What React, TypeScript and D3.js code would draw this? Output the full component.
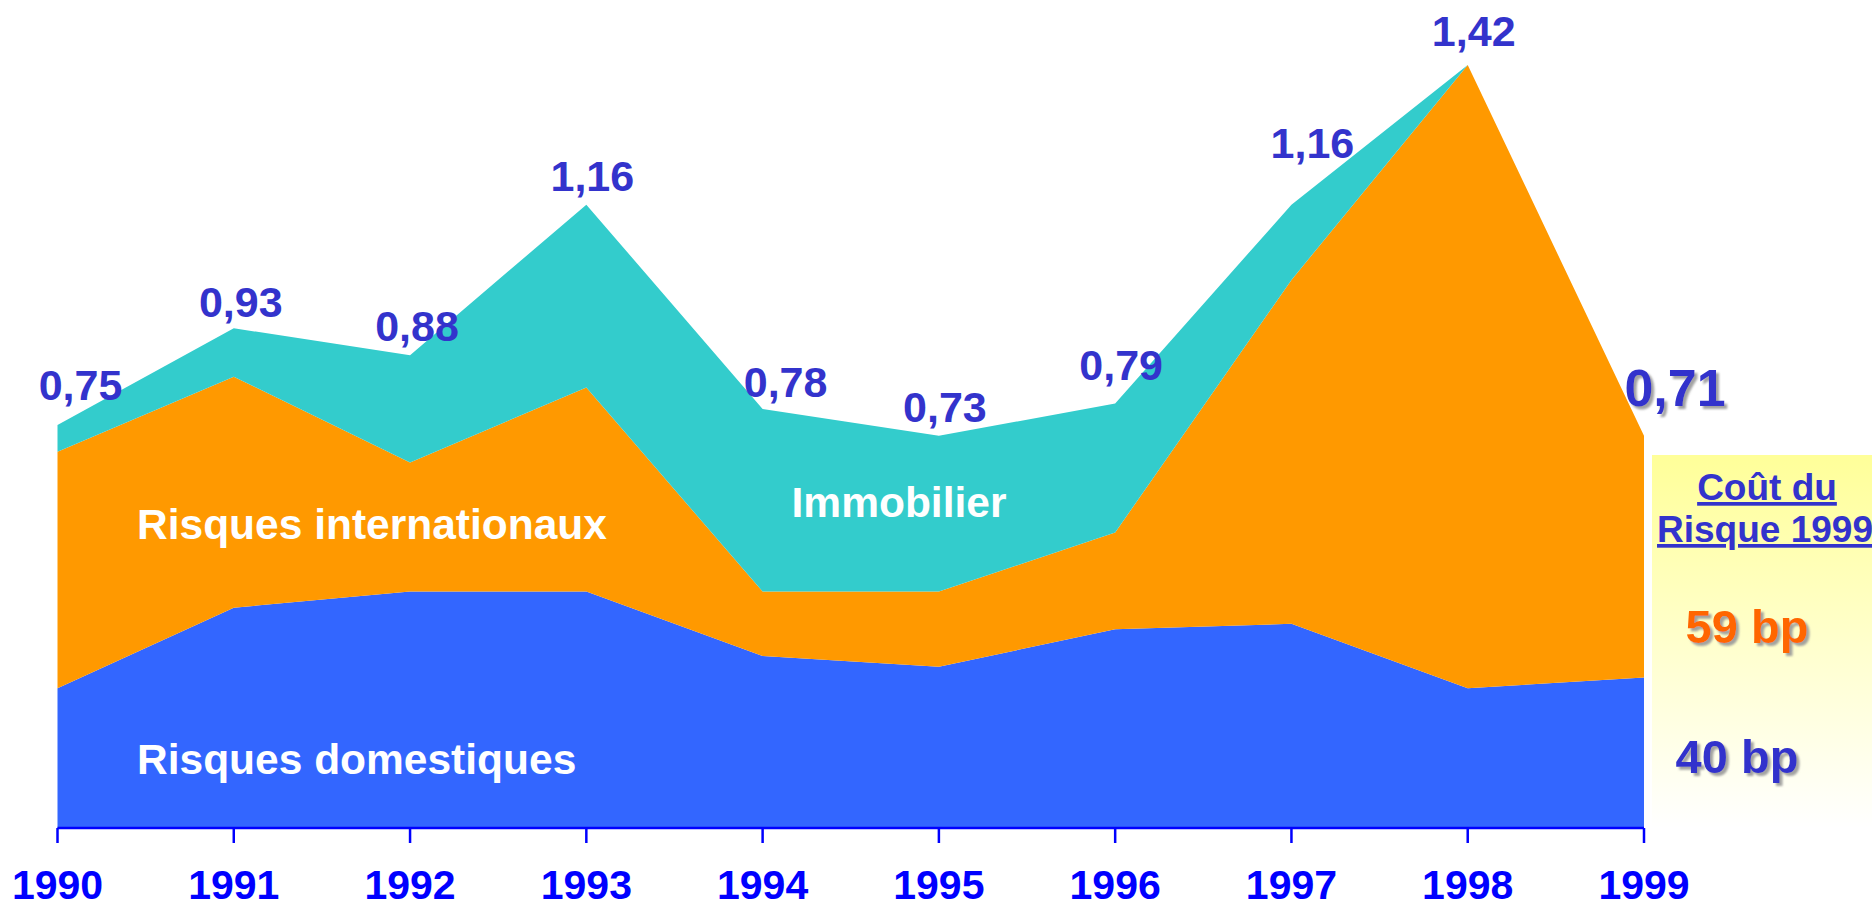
import * as d3 from 'd3';
import { useEffect, useRef } from 'react';

const WIDTH = 1872;
const HEIGHT = 908;

const years = ['1990', '1991', '1992', '1993', '1994', '1995', '1996', '1997', '1998', '1999'];
// cost of risk by component, in % of loans
const domestiques = [0.26, 0.41, 0.44, 0.44, 0.32, 0.3, 0.37, 0.38, 0.26, 0.28];
const internationaux = [0.44, 0.43, 0.24, 0.38, 0.12, 0.14, 0.18, 0.64, 1.16, 0.45];
const immobilier = [0.05, 0.09, 0.2, 0.34, 0.34, 0.29, 0.24, 0.14, 0, 0];
const totalLabels = ['0,75', '0,93', '0,88', '1,16', '0,78', '0,73', '0,79', '1,16', '1,42', '0,71'];

const seriesKeys = ['domestiques', 'internationaux', 'immobilier'] as const;
const seriesColors = ['#3366FF', '#FF9900', '#33CCCC'];

// label nudges [dx, dy] relative to the top of the stack
const labelNudge: [number, number][] = [
  [23, -25], [7, -11], [7, -14], [6, -14], [23, -12],
  [6, -14], [6, -24], [21, -47], [6, -19], [31, -30],
];

const FONT = "'Liberation Sans', Arial, sans-serif";

export default function App() {
  const svgRef = useRef<SVGSVGElement>(null);

  useEffect(() => {
    const svgEl = svgRef.current;
    if (!svgEl) return;
    const svg = d3.select(svgEl);
    svg.selectAll('*').remove();

    const rows = years.map((y, i) => ({
      year: y,
      domestiques: domestiques[i],
      internationaux: internationaux[i],
      immobilier: immobilier[i],
    }));

    const x = d3.scalePoint<string>().domain(years).range([57.5, 1644]);
    const y = d3.scaleLinear().domain([0, 1.42]).range([828, 65]);

    const stack = d3.stack<(typeof rows)[number]>().keys(seriesKeys as unknown as string[]);
    const layers = stack(rows);

    const defs = svg.append('defs');
    const grad = defs
      .append('linearGradient')
      .attr('id', 'legendGrad')
      .attr('x1', 0)
      .attr('y1', 0)
      .attr('x2', 0)
      .attr('y2', 1);
    grad.append('stop').attr('offset', '0%').attr('stop-color', '#FFFF99');
    grad.append('stop').attr('offset', '100%').attr('stop-color', '#FFFFFF');

    const shadow = defs.append('filter').attr('id', 'shadow').attr('x', '-10%').attr('y', '-10%').attr('width', '130%').attr('height', '140%');
    shadow
      .append('feDropShadow')
      .attr('dx', 3)
      .attr('dy', 3)
      .attr('stdDeviation', 1)
      .attr('flood-color', '#999999')
      .attr('flood-opacity', 0.9);

    // legend box on the right
    svg
      .append('rect')
      .attr('x', 1652)
      .attr('y', 455)
      .attr('width', WIDTH - 1652)
      .attr('height', 828 - 455)
      .attr('fill', 'url(#legendGrad)');

    const area = d3
      .area<d3.SeriesPoint<(typeof rows)[number]>>()
      .x((d) => x(d.data.year) ?? 0)
      .y0((d) => y(d[0]))
      .y1((d) => y(d[1]));

    svg
      .append('g')
      .selectAll('path')
      .data(layers)
      .join('path')
      .attr('fill', (_d, i) => seriesColors[i])
      .attr('d', (d) => area(d) ?? '');

    // axis
    const axis = svg.append('g').attr('stroke', '#0000FF').attr('stroke-width', 2.5);
    axis
      .append('line')
      .attr('x1', x(years[0]) ?? 0)
      .attr('x2', x(years[years.length - 1]) ?? 0)
      .attr('y1', 828)
      .attr('y2', 828);
    axis
      .selectAll('line.tick')
      .data(years)
      .join('line')
      .attr('class', 'tick')
      .attr('x1', (d) => x(d) ?? 0)
      .attr('x2', (d) => x(d) ?? 0)
      .attr('y1', 828)
      .attr('y2', 843);

    svg
      .append('g')
      .selectAll('text')
      .data(years)
      .join('text')
      .attr('x', (d) => x(d) ?? 0)
      .attr('y', 899)
      .attr('text-anchor', 'middle')
      .attr('font-family', FONT)
      .attr('font-weight', 'bold')
      .attr('font-size', 41)
      .attr('fill', '#0000FF')
      .text((d) => d);

    // totals on top of the stack
    const top = layers[layers.length - 1];
    svg
      .append('g')
      .selectAll('text')
      .data(top)
      .join('text')
      .attr('x', (d, i) => (x(d.data.year) ?? 0) + labelNudge[i][0])
      .attr('y', (d, i) => y(d[1]) + labelNudge[i][1])
      .attr('text-anchor', 'middle')
      .attr('font-family', FONT)
      .attr('font-weight', 'bold')
      .attr('font-size', (_d, i) => (i === years.length - 1 ? 52 : 43))
      .attr('filter', (_d, i) => (i === years.length - 1 ? 'url(#shadow)' : null))
      .attr('fill', '#3333CC')
      .text((_d, i) => totalLabels[i]);

    // series names
    const names = svg
      .append('g')
      .attr('font-family', FONT)
      .attr('font-weight', 'bold')
      .attr('font-size', 42.5)
      .attr('fill', '#FFFFFF');
    names.append('text').attr('x', 137).attr('y', 539).text('Risques internationaux');
    names.append('text').attr('x', 137).attr('y', 774).text('Risques domestiques');
    names.append('text').attr('x', 899).attr('y', 517).attr('text-anchor', 'middle').text('Immobilier');

    // legend text
    const legend = svg.append('g').attr('font-family', FONT).attr('font-weight', 'bold').attr('text-anchor', 'middle');
    legend
      .append('text')
      .attr('x', 1767)
      .attr('y', 500)
      .attr('font-size', 37)
      .attr('fill', '#3333CC')
      .style('text-decoration', 'underline')
      .text('Coût du');
    legend
      .append('text')
      .attr('x', 1765)
      .attr('y', 542)
      .attr('font-size', 37)
      .attr('fill', '#3333CC')
      .style('text-decoration', 'underline')
      .text('Risque 1999');
    legend
      .append('text')
      .attr('x', 1747)
      .attr('y', 643)
      .attr('font-size', 47)
      .attr('fill', '#FF6600')
      .attr('filter', 'url(#shadow)')
      .text('59 bp');
    legend
      .append('text')
      .attr('x', 1737)
      .attr('y', 773)
      .attr('font-size', 47)
      .attr('fill', '#3333CC')
      .attr('filter', 'url(#shadow)')
      .text('40 bp');
  }, []);

  return (
    <svg
      ref={svgRef}
      width={WIDTH}
      height={HEIGHT}
      style={{ position: 'absolute', left: 0, top: 0, background: '#FFFFFF' }}
    />
  );
}
